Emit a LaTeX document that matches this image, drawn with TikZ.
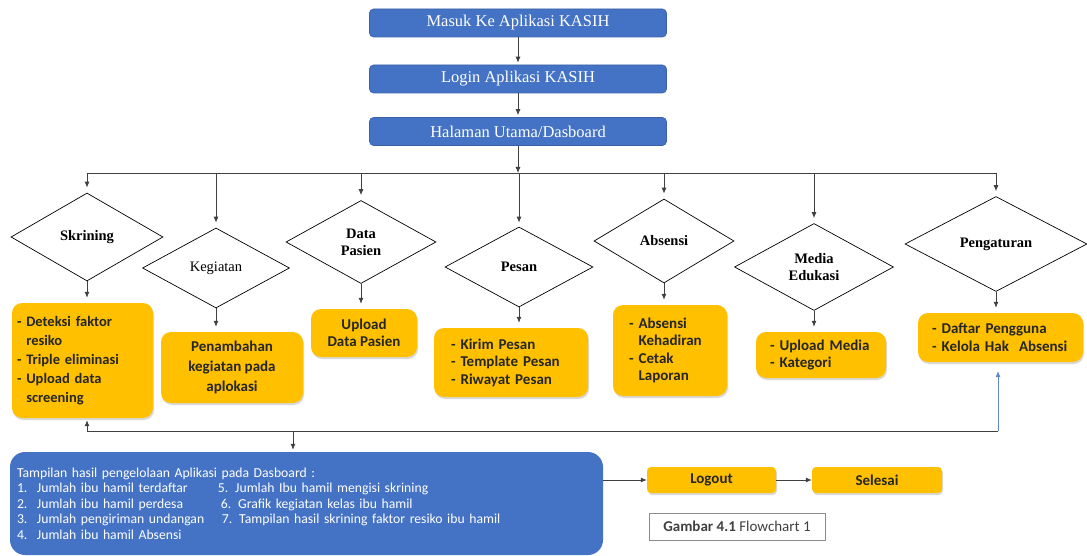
\documentclass[tikz,border=0pt]{standalone}
\usepackage{fontspec}
\setmainfont{Liberation Serif}
\newfontfamily\calibri{Carlito}
\usetikzlibrary{arrows.meta,shapes.geometric,shadows}

\definecolor{kasihblue}{HTML}{4472C4}
\definecolor{kasihgold}{HTML}{FFC000}
\definecolor{linegray}{HTML}{404040}
\newcommand{\hasilitem}[3]{\makebox[20pt][l]{#1}\makebox[#2][l]{#3}}

\tikzset{
  topbox/.style={draw=kasihblue!85!black, line width=0.6pt, fill=kasihblue,
    rounded corners=4pt, text=white, minimum width=297pt, minimum height=28pt,
    font=\fontsize{16.5}{18}\selectfont},
  choice/.style={diamond, draw=black, line width=0.7pt, fill=white, inner sep=0pt,
    align=center, font=\fontsize{14.5}{17}\selectfont\bfseries},
  menubox/.style={fill=kasihgold, rounded corners=10pt,
    drop shadow={opacity=0.3, shadow xshift=1pt, shadow yshift=-2pt},
    font=\calibri\bfseries\fontsize{15}{17.5}\selectfont, text=black!85},
  link/.style={draw=linegray, line width=0.8pt},
  arr/.style={link, -{Latex[length=6pt,width=5pt]}},
}

\begin{document}
\begin{tikzpicture}[x=1pt, y=-1pt]
    \useasboundingbox (0,0) rectangle (1087,556);

    % top of the flow
    \node[topbox] (masuk) at (518,23) {Masuk Ke Aplikasi KASIH};
    \node[topbox] (login) at (518,79) {Login Aplikasi KASIH};
    \node[topbox] (hal) at (518,131.5) {Halaman Utama/Dasboard};

    % menu choices
    \node[choice, minimum width=152pt, minimum height=88pt] (skr) at (87,237) {Skrining};
    \node[choice, minimum width=147pt, minimum height=80pt, font=\fontsize{14.5}{17}\selectfont] (keg) at (216,268) {Kegiatan};
    \node[choice, minimum width=150pt, minimum height=83pt] (dat) at (361,242) {Data\\Pasien};
    \node[choice, minimum width=148pt, minimum height=80pt] (pes) at (519,267) {Pesan};
    \node[choice, minimum width=140pt, minimum height=84pt] (abs) at (664,241) {Absensi};
    \node[choice, minimum width=159pt, minimum height=87pt] (med) at (814,267) {Media\\Edukasi};
    \node[choice, minimum width=182pt, minimum height=95pt] (peng) at (996,244) {Pengaturan};

    % what each menu holds
    \node[menubox, minimum width=141pt, minimum height=115pt, inner xsep=5pt,
          text width=131pt, align=left, font=\calibri\bfseries\fontsize{14.5}{19}\selectfont]
          (skrbox) at (82.5,360.5)
          {- Deteksi faktor\\\phantom{- }resiko\\- Triple eliminasi\\- Upload data\\\phantom{- }screening};
    \node[menubox, minimum width=142pt, minimum height=71pt, align=center,
          font=\calibri\bfseries\fontsize{15}{20}\selectfont]
          (kegbox) at (232,367.5) {Penambahan\\kegiatan pada\\aplokasi};
    \node[menubox, minimum width=106pt, minimum height=48pt, align=center] (datbox) at (364,333)
          {Upload\\Data Pasien};
    \node[menubox, minimum width=154pt, minimum height=69pt, inner xsep=17pt,
          text width=120pt, align=left] (pesbox) at (511,362.5)
          {- Kirim Pesan\\- Template Pesan\\- Riwayat Pesan};
    \node[menubox, minimum width=114pt, minimum height=91pt, inner xsep=16pt,
          text width=82pt, align=left] (absbox) at (670,350.5)
          {- Absensi\\\phantom{- }Kehadiran\\- Cetak\\\phantom{- }Laporan};
    \node[menubox, minimum width=130pt, minimum height=46pt, inner xsep=14pt,
          text width=102pt, align=left] (medbox) at (821,355)
          {- Upload Media\\- Kategori};
    \node[menubox, minimum width=165pt, minimum height=49pt, inner xsep=14pt,
          text width=137pt, align=left] (pengbox) at (1000.5,337.5)
          {- Daftar Pengguna\\- Kelola Hak~~Absensi};

    % dashboard summary and the end
    \node[fill=kasihblue, rounded corners=15pt, minimum width=593pt, minimum height=103pt,
          inner xsep=7pt, text width=579pt, align=left, text=white,
          font=\calibri\fontsize{13.7}{15.4}\selectfont] (hasil) at (306.5,503.5)
          {Tampilan hasil pengelolaan Aplikasi pada Dasboard :\\
           \hasilitem{1.}{181pt}{Jumlah ibu hamil terdaftar}5. Jumlah Ibu hamil mengisi skrining\\
           \hasilitem{2.}{184pt}{Jumlah ibu hamil perdesa}6. Grafik kegiatan kelas ibu hamil\\
           \hasilitem{3.}{185pt}{Jumlah pengiriman undangan}7. Tampilan hasil skrining faktor resiko ibu hamil\\
           \hasilitem{4.}{181pt}{Jumlah ibu hamil Absensi}};
    \node[menubox, rounded corners=4pt, minimum width=129pt, minimum height=26pt] (logout) at (711.5,480) {Logout};
    \node[menubox, rounded corners=4pt, minimum width=130pt, minimum height=26pt] (selesai) at (877,480) {Selesai};
    \node[draw=black!45, line width=0.6pt, minimum width=176pt, minimum height=27pt, text=black!75,
          font=\calibri\fontsize{15}{16}\selectfont] (caption) at (737,526.5)
          {\textbf{Gambar 4.1} Flowchart 1};

    \coordinate (topbus) at (0,173);
    \coordinate (backL) at (87,431);
    \coordinate (backM) at (293,431);
    \coordinate (backR) at (998,431);

    \draw[arr, shorten >=2pt] (masuk) -- (login);
    \draw[arr, shorten >=2pt] (login) -- (hal);
    \draw[arr] (hal.south) -- (hal.south |- topbus);
    \draw[link] (skr.north |- topbus) -- (peng.north |- topbus);

    \draw[arr, shorten >=5pt] (skr.north |- topbus) -- (skr.north);
    \draw[arr, shorten >=5pt] (keg.north |- topbus) -- (keg.north);
    \draw[arr, shorten >=5pt] (dat.north |- topbus) -- (dat.north);
    \draw[arr, shorten >=4pt] (pes.north |- topbus) -- (pes.north);
    \draw[arr, shorten >=5pt] (abs.north |- topbus) -- (abs.north);
    \draw[arr, shorten >=5pt] (med.north |- topbus) -- (med.north);
    \draw[arr, shorten >=5pt] (peng.north |- topbus) -- (peng.north);

    \draw[arr, shorten >=5pt] (skr.south) -- (skr.south |- skrbox.north);
    \draw[arr, shorten >=5pt] (keg.south) -- (keg.south |- kegbox.north);
    \draw[arr, shorten >=5pt] (dat.south) -- (dat.south |- datbox.north);
    \draw[arr, shorten >=5pt] (pes.south) -- (pes.south |- pesbox.north);
    \draw[arr, shorten >=5pt] (abs.south) -- (abs.south |- absbox.north);
    \draw[arr, shorten >=5pt] (med.south) -- (med.south |- medbox.north);
    \draw[arr, shorten >=5pt] (peng.south) -- (peng.south |- pengbox.north);

    \draw[link] (backL) -- (backR);
    \draw[arr, shorten >=2pt] (backL) -- (backL |- skrbox.south);
    \draw[arr, shorten >=2pt] (backM) -- (backM |- hasil.north);
    \draw[arr, draw=kasihblue!85, line width=0.6pt, shorten >=9pt] (backR) -- (backR |- pengbox.south);

    \draw[arr] (hasil.east |- logout.west) -- (logout.west);
    \draw[arr] (logout) -- (selesai);
\end{tikzpicture}
\end{document}
